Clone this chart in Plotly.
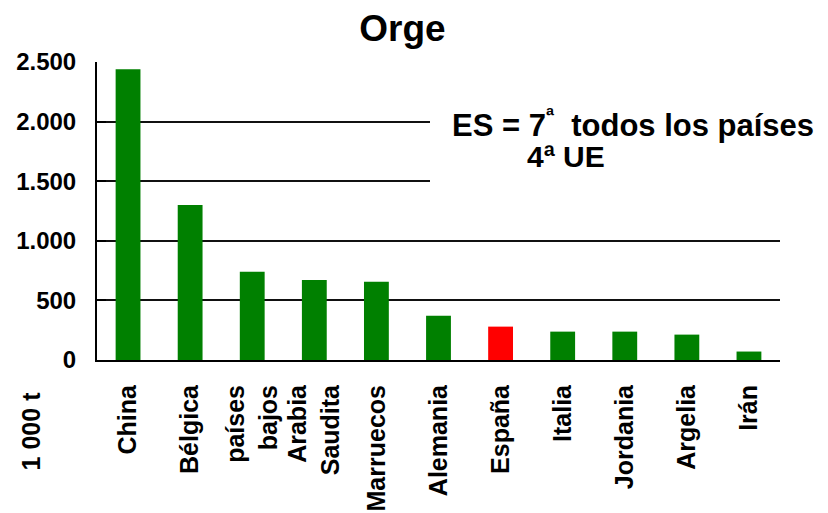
import plotly.graph_objects as go

# Barley production (thousand tonnes) by country
countries = ["China", "Bélgica", "países<br>bajos", "Arabia<br>Saudita", "Marruecos",
             "Alemania", "España", "Italia", "Jordania", "Argelia", "Irán"]
values = [2440, 1300, 740, 672, 656, 372, 280, 238, 238, 213, 71]
highlight = "España"

y_ticks = [0, 500, 1000, 1500, 2000, 2500]
y_tick_text = ["0", "500", "1.000", "1.500", "2.000", "2.500"]

colors = ["#FF0000" if c == highlight else "#008000" for c in countries]

W, H = 828, 513
ML, MR, MT, MB = 97, 48, 62, 152.5
plot_w = W - ML - MR
plot_h = H - MT - MB

font_family = "Liberation Sans, Arial, sans-serif"

fig = go.Figure(
    go.Bar(
        x=countries,
        y=values,
        marker=dict(color=colors, line=dict(width=0)),
        hoverinfo="x+y",
    )
)


def px_x(px):
    return (px - ML) / plot_w


def px_y(py):
    return 1 - (py - MT) / plot_h


fig.update_layout(
    width=W,
    height=H,
    margin=dict(l=ML, r=MR, t=MT, b=MB, pad=0, autoexpand=False),
    paper_bgcolor="white",
    plot_bgcolor="white",
    bargap=0.6,
    showlegend=False,
    font=dict(family=font_family, color="black", size=25),
    title=dict(
        text="<b>Orge</b>",
        font=dict(size=37, family=font_family, color="black"),
        x=402.5 / W,
        xanchor="center",
        xref="container",
        y=1 - 28.5 / H,
        yanchor="middle",
        yref="container",
    ),
    xaxis=dict(
        tickangle=-90,
        tickfont=dict(size=25, family=font_family, color="black", weight="bold"),
        showline=True,
        linecolor="black",
        linewidth=2,
        ticks="",
        showgrid=False,
        automargin=False,
        ticklabelstandoff=13,
    ),
    yaxis=dict(
        range=[0, 2500],
        tickvals=y_ticks,
        ticktext=y_tick_text,
        tickfont=dict(size=24, family=font_family, color="black", weight="bold"),
        showline=True,
        linecolor="black",
        linewidth=2,
        ticks="inside",
        ticklen=9,
        tickwidth=2,
        tickcolor="black",
        showgrid=True,
        gridcolor="#111111",
        gridwidth=2,
        zeroline=False,
        automargin=False,
        ticklabelstandoff=14,
    ),
)

# White panel behind the ranking note, covering the gridlines there
fig.add_shape(
    type="rect",
    xref="paper",
    yref="y",
    x0=px_x(430),
    x1=1.01,
    y0=1250,
    y1=2250,
    fillcolor="white",
    line=dict(width=0),
    layer="above",
)

fig.add_annotation(
    text="<b>ES = 7<sup>ª</sup>  todos los países</b>",
    xref="paper",
    yref="paper",
    x=px_x(450),
    y=px_y(123),
    xanchor="left",
    yanchor="middle",
    showarrow=False,
    font=dict(size=31, family=font_family, color="black"),
)
fig.add_annotation(
    text="<b>4ª UE</b>",
    xref="paper",
    yref="paper",
    x=px_x(525),
    y=px_y(157),
    xanchor="left",
    yanchor="middle",
    showarrow=False,
    font=dict(size=30, family=font_family, color="black"),
)

# Unit label placed below the y axis
fig.add_annotation(
    text="<b>1 000 t</b>",
    xref="paper",
    yref="paper",
    x=px_x(31),
    y=px_y(432),
    xanchor="center",
    yanchor="middle",
    textangle=-90,
    showarrow=False,
    font=dict(size=25, family=font_family, color="black"),
)

fig.write_html("out.html")
